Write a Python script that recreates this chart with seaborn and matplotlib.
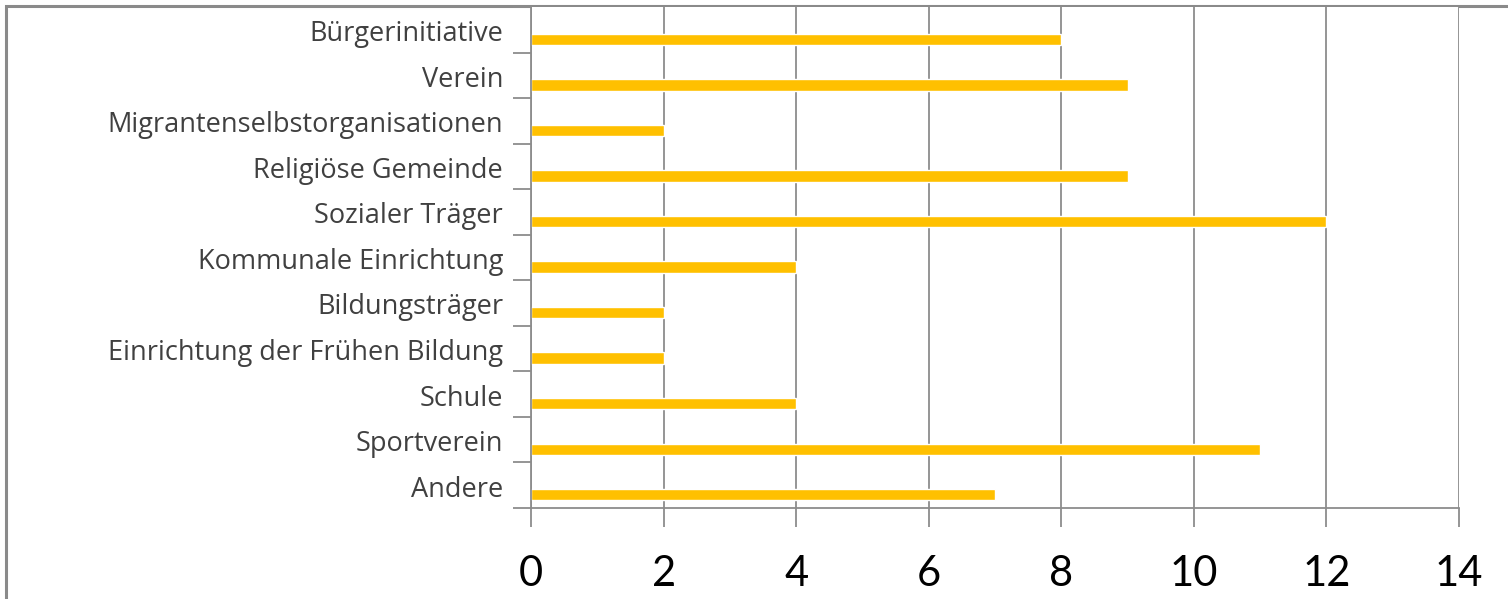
import matplotlib
matplotlib.use("Agg")
import matplotlib.pyplot as plt
from matplotlib.patches import Rectangle
from matplotlib.ticker import FixedLocator
import seaborn as sns
import numpy as np
import pandas as pd

categories = [
    "Bürgerinitiative",
    "Verein",
    "Migrantenselbstorganisationen",
    "Religiöse Gemeinde",
    "Sozialer Träger",
    "Kommunale Einrichtung",
    "Bildungsträger",
    "Einrichtung der Frühen Bildung",
    "Schule",
    "Sportverein",
    "Andere",
]
values = [8, 9, 2, 9, 12, 4, 2, 2, 4, 11, 7]
x_ticks = [0, 2, 4, 6, 8, 10, 12, 14]

sns.set_theme(style="white")
plt.rcParams["font.family"] = ["Lato", "DejaVu Sans"]

df = pd.DataFrame({"Kategorie": categories, "Anzahl": values})

W, H = 1508, 599
fig = plt.figure(figsize=(W / 100, H / 100), dpi=100)
ax = fig.add_axes([531 / W, 1 - 508 / H, (1459 - 531) / W, (508 - 7) / H])

sns.barplot(data=df, x="Anzahl", y="Kategorie", orient="h", color="#FFC000",
            width=0.25, saturation=1, ax=ax)

offset = 0.21
n = len(categories)
pos = np.arange(n)
ax.set_ylim(n - 1 - offset + 0.5, -offset - 0.5)
ax.set_xlim(x_ticks[0], x_ticks[-1])

ax.set_yticks(pos - offset + 0.02)
ax.set_yticklabels(categories, family=["Open Sans", "DejaVu Sans"])
ax.yaxis.set_minor_locator(FixedLocator(list(pos - offset + 0.5) + [-offset - 0.5]))
ax.tick_params(axis="y", which="major", length=0, pad=20, labelsize=19.5, labelcolor="#404040")
ax.tick_params(axis="y", which="minor", length=13, width=1.3, color="#8c8c8c", left=True)

ax.set_xticks(x_ticks)
ax.set_xticklabels([str(t) for t in x_ticks])
ax.tick_params(axis="x", which="major", length=14, width=1.3, color="#8c8c8c", bottom=True,
               pad=20, labelsize=30, labelcolor="#000000")

ax.set_xlabel("")
ax.set_ylabel("")
ax.grid(axis="x", color="#8c8c8c", linewidth=1.3)
ax.grid(axis="y", visible=False)
ax.set_axisbelow(True)
for side in ["top", "right"]:
    ax.spines[side].set_visible(False)
for side in ["left", "bottom"]:
    ax.spines[side].set_color("#8c8c8c")
    ax.spines[side].set_linewidth(1.3)

# chart area border (left and top visible)
fig.patches.append(Rectangle((6 / W, -0.1), 1.2, 1.1 - 6 / H, transform=fig.transFigure,
                             fill=False, edgecolor="#8a8a8a", linewidth=2.2, zorder=-1))

fig.savefig("out.png", dpi=100)
